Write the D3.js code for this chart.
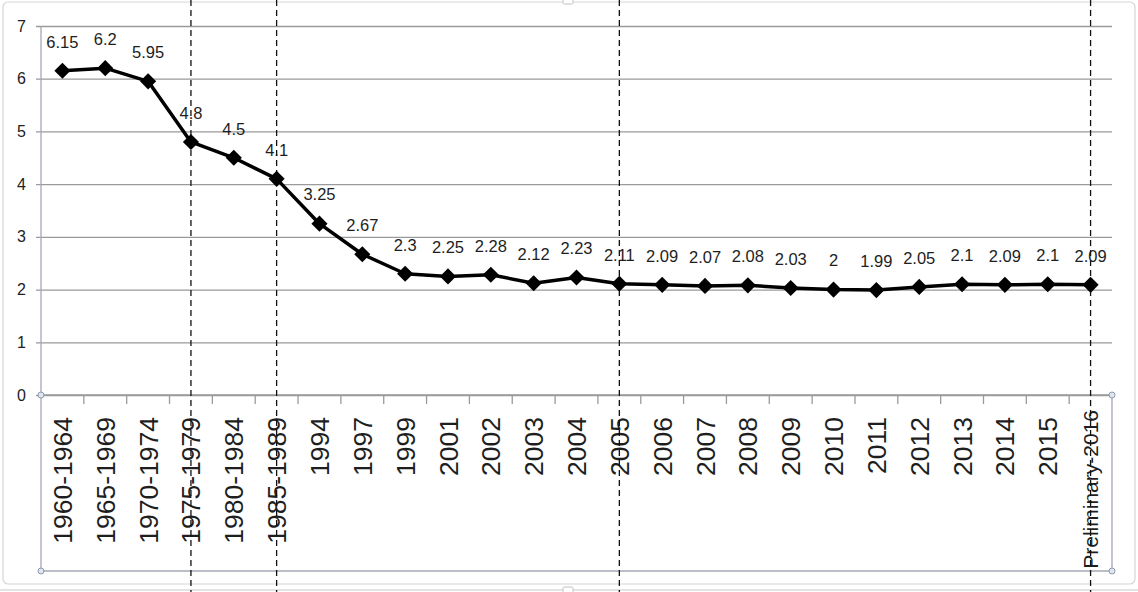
<!DOCTYPE html>
<html>
<head>
<meta charset="utf-8">
<script src="https://cdn.jsdelivr.net/npm/d3@7"></script>
<style>
  html, body { margin: 0; padding: 0; background: #fff; }
  svg { display: block; }
  text { font-family: "Liberation Sans", Arial, sans-serif; }
</style>
</head>
<body>
<svg id="chart" width="1138" height="592"></svg>
<script>
const categories = ["1960-1964","1965-1969","1970-1974","1975-1979","1980-1984","1985-1989",
  "1994","1997","1999","2001","2002","2003","2004","2005","2006","2007","2008","2009",
  "2010","2011","2012","2013","2014","2015","Preliminary-2016"];
const values = [6.15,6.2,5.95,4.8,4.5,4.1,3.25,2.67,2.3,2.25,2.28,2.12,2.23,2.11,2.09,2.07,2.08,2.03,2,1.99,2.05,2.1,2.09,2.1,2.09];
const yTicks = [0,1,2,3,4,5,6,7];
const markedCategories = ["1975-1979","1985-1989","2005","Preliminary-2016"];

(function () {
const W = 1138, H = 592;
const mLeft = 41, mRight = 1112, mTop = 26, mBottom = 395, boxBottom = 571;

const svg = d3.select("#chart");

// outer frame
svg.append("rect").attr("x", 3).attr("y", 2).attr("width", 1132).attr("height", 582)
  .attr("rx", 5).attr("fill", "#fff").attr("stroke", "#d6d6d6").attr("stroke-width", 1.2);
svg.append("line").attr("x1", 0).attr("x2", W).attr("y1", 590).attr("y2", 590)
  .attr("stroke", "#c8c8c8").attr("stroke-width", 1.2);
[[563, -2], [563, 587]].forEach(([hx, hy]) => {
  svg.append("rect").attr("x", hx).attr("y", hy).attr("width", 10).attr("height", 6)
    .attr("rx", 1.5).attr("fill", "#fff").attr("stroke", "#c0c0c0");
});

const x = d3.scaleBand().domain(categories).range([mLeft, mRight]).padding(0);
const y = d3.scaleLinear().domain([0, 7]).range([mBottom, mTop]);
const cx = c => x(c) + x.bandwidth() / 2;

// gridlines + y labels
const yAxis = d3.axisLeft(y).tickValues(yTicks).tickSize(mRight - mLeft + 5).tickPadding(10).tickFormat(d3.format("d"));
const gy = svg.append("g").attr("transform", `translate(${mRight},0)`).call(yAxis);
gy.select(".domain").remove();
gy.selectAll(".tick line").attr("stroke", "#9a9a9a").attr("stroke-width", 1.3);
gy.selectAll(".tick text").attr("fill", "#222").attr("font-size", 16);

// y axis line + x axis box
svg.append("line").attr("x1", mLeft).attr("x2", mLeft).attr("y1", mTop).attr("y2", boxBottom)
  .attr("stroke", "#a4a9b3").attr("stroke-width", 1.3);
svg.append("line").attr("x1", mRight).attr("x2", mRight).attr("y1", mBottom).attr("y2", boxBottom)
  .attr("stroke", "#a4a9b3").attr("stroke-width", 1.3);
svg.append("line").attr("x1", mLeft).attr("x2", mRight).attr("y1", boxBottom).attr("y2", boxBottom)
  .attr("stroke", "#a4a9b3").attr("stroke-width", 1.3);
svg.append("line").attr("x1", mLeft).attr("x2", mRight).attr("y1", mBottom).attr("y2", mBottom)
  .attr("stroke", "#9a9a9a").attr("stroke-width", 1.3);

// x tick marks at band boundaries
svg.append("g").selectAll("line").data(categories.slice(1)).join("line")
  .attr("x1", d => x(d)).attr("x2", d => x(d))
  .attr("y1", mBottom).attr("y2", mBottom + 9)
  .attr("stroke", "#9a9a9a").attr("stroke-width", 1.3);

// x labels rotated
const xAxis = d3.axisBottom(x).tickSize(0).tickPadding(0);
const gx = svg.append("g").attr("transform", `translate(0,${mBottom})`).call(xAxis);
gx.select(".domain").remove();
gx.selectAll(".tick text")
  .attr("transform", d => `translate(0,${d.length > 10 ? 15 : 22}) rotate(-90)`)
  .attr("text-anchor", "end")
  .attr("x", 0).attr("y", 0).attr("dy", "0.36em")
  .attr("fill", "#1e1e1e")
  .attr("font-size", d => d.length > 10 ? 21 : 26.5);

// vertical dashed markers
svg.append("g").selectAll("line").data(markedCategories).join("line")
  .attr("x1", d => cx(d)).attr("x2", d => cx(d))
  .attr("y1", 0).attr("y2", H)
  .attr("stroke", "#111").attr("stroke-width", 1.3).attr("stroke-dasharray", "6,4");

// corner handles
[[mLeft, mBottom], [mLeft, boxBottom], [mRight, mBottom], [mRight, boxBottom]].forEach(([hx, hy]) => {
  svg.append("circle").attr("cx", hx).attr("cy", hy).attr("r", 3)
    .attr("fill", "#dfe6ee").attr("stroke", "#8c9bb0").attr("stroke-width", 1);
});

// line
const line = d3.line().x((d, i) => cx(categories[i])).y(d => y(d));
svg.append("path").datum(values).attr("d", line)
  .attr("fill", "none").attr("stroke", "#000").attr("stroke-width", 3.5)
  .attr("stroke-linejoin", "round");

// diamonds (rotated squares)
const diamond = d3.symbol().type(d3.symbolSquare).size(130);
svg.append("g").selectAll("path").data(values).join("path")
  .attr("d", diamond)
  .attr("transform", (d, i) => `translate(${cx(categories[i])},${y(d)}) rotate(45)`)
  .attr("fill", "#000");

// data labels
svg.append("g").selectAll("text").data(values).join("text")
  .attr("x", (d, i) => cx(categories[i]))
  .attr("y", d => y(d) - 29)
  .attr("dy", "0.35em")
  .attr("text-anchor", "middle")
  .attr("font-size", 16.5)
  .attr("fill", "#1e1e1e")
  .text(d => String(d));
})();
</script>
</body>
</html>
